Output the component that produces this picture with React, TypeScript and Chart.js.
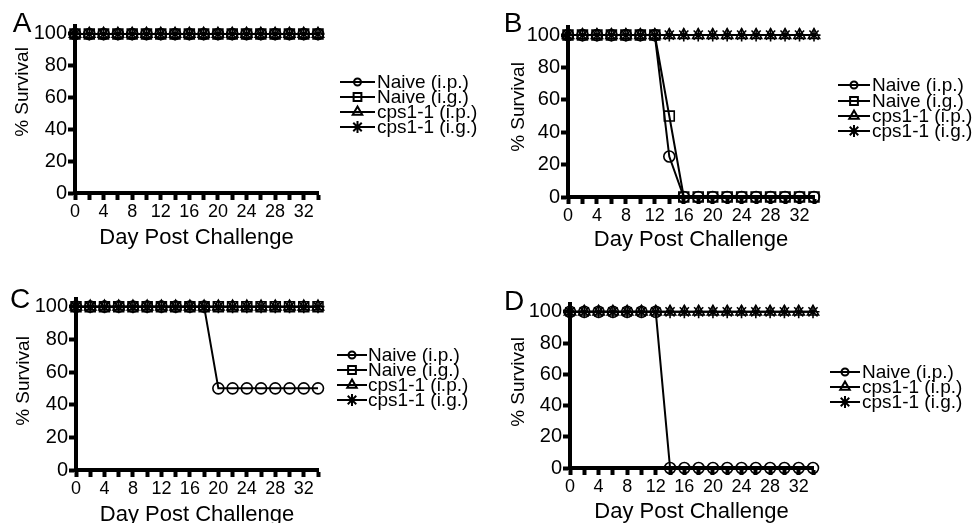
import React, { useEffect, useRef } from 'react';
import { Chart, registerables } from 'chart.js';

Chart.register(...registerables);

// ---------- data ----------
const days = [0, 2, 4, 6, 8, 10, 12, 14, 16, 18, 20, 22, 24, 26, 28, 30, 32, 34];

const seriesNames = ['Naive (i.p.)', 'Naive (i.g.)', 'cps1-1 (i.p.)', 'cps1-1 (i.g.)'];

// Panel A
const aNaiveIP = [100, 100, 100, 100, 100, 100, 100, 100, 100, 100, 100, 100, 100, 100, 100, 100, 100, 100];
const aNaiveIG = [100, 100, 100, 100, 100, 100, 100, 100, 100, 100, 100, 100, 100, 100, 100, 100, 100, 100];
const aCpsIP = [100, 100, 100, 100, 100, 100, 100, 100, 100, 100, 100, 100, 100, 100, 100, 100, 100, 100];
const aCpsIG = [100, 100, 100, 100, 100, 100, 100, 100, 100, 100, 100, 100, 100, 100, 100, 100, 100, 100];

// Panel B
const bNaiveIP = [100, 100, 100, 100, 100, 100, 100, 25, 0, 0, 0, 0, 0, 0, 0, 0, 0, 0];
const bNaiveIG = [100, 100, 100, 100, 100, 100, 100, 50, 0, 0, 0, 0, 0, 0, 0, 0, 0, 0];
const bCpsIP = [100, 100, 100, 100, 100, 100, 100, 100, 100, 100, 100, 100, 100, 100, 100, 100, 100, 100];
const bCpsIG = [100, 100, 100, 100, 100, 100, 100, 100, 100, 100, 100, 100, 100, 100, 100, 100, 100, 100];

// Panel C
const cNaiveIP = [100, 100, 100, 100, 100, 100, 100, 100, 100, 100, 50, 50, 50, 50, 50, 50, 50, 50];
const cNaiveIG = [100, 100, 100, 100, 100, 100, 100, 100, 100, 100, 100, 100, 100, 100, 100, 100, 100, 100];
const cCpsIP = [100, 100, 100, 100, 100, 100, 100, 100, 100, 100, 100, 100, 100, 100, 100, 100, 100, 100];
const cCpsIG = [100, 100, 100, 100, 100, 100, 100, 100, 100, 100, 100, 100, 100, 100, 100, 100, 100, 100];

// Panel D
const dNaiveIP = [100, 100, 100, 100, 100, 100, 100, 0, 0, 0, 0, 0, 0, 0, 0, 0, 0, 0];
const dCpsIP = [100, 100, 100, 100, 100, 100, 100, 100, 100, 100, 100, 100, 100, 100, 100, 100, 100, 100];
const dCpsIG = [100, 100, 100, 100, 100, 100, 100, 100, 100, 100, 100, 100, 100, 100, 100, 100, 100, 100];

const yTicks = [0, 20, 40, 60, 80, 100];
const xTitle = 'Day Post Challenge';
const yTitle = '% Survival';

// ---------- styling ----------
const FONT = "'Liberation Sans', Arial, Helvetica, sans-serif";
const markerStyle: Record<string, { style: string; r: number; lr: number }> = {
  'Naive (i.p.)': { style: 'circle', r: 5.5, lr: 3.5 },
  'Naive (i.g.)': { style: 'rect', r: 7, lr: 5.5 },
  'cps1-1 (i.p.)': { style: 'triangle', r: 6.5, lr: 5.5 },
  'cps1-1 (i.g.)': { style: 'star', r: 6.5, lr: 6 },
};

type Series = { name: string; values: number[]; order: number };
type PanelCfg = {
  letter: string;
  left: number; top: number; w: number; h: number;
  area: { l: number; r: number; t: number; b: number };
  xTitleY: number;
  yTitlePos: { x: number; y: number };
  letterPos: { x: number; y: number };
  legend: { x1: number; x2: number; tx: number; rows: number[] };
  series: Series[];
};

const panels: PanelCfg[] = [
  {
    letter: 'A', left: 0, top: 0, w: 486, h: 270,
    area: { l: 75, r: 318, t: 26, b: 193 },
    xTitleY: 238, yTitlePos: { x: 22, y: 92 }, letterPos: { x: 22, y: 24 },
    legend: { x1: 340, x2: 375, tx: 377, rows: [82, 97, 112, 127] },
    series: [
      { name: seriesNames[0], values: aNaiveIP, order: 1 },
      { name: seriesNames[1], values: aNaiveIG, order: 0 },
      { name: seriesNames[2], values: aCpsIP, order: 2 },
      { name: seriesNames[3], values: aCpsIG, order: 3 },
    ],
  },
  {
    letter: 'B', left: 486, top: 0, w: 486, h: 270,
    area: { l: 82, r: 328, t: 27, b: 197 },
    xTitleY: 240, yTitlePos: { x: 32, y: 107 }, letterPos: { x: 27, y: 24 },
    legend: { x1: 352, x2: 384, tx: 386, rows: [85, 101, 116, 131] },
    series: [
      { name: seriesNames[0], values: bNaiveIP, order: 1 },
      { name: seriesNames[1], values: bNaiveIG, order: 0 },
      { name: seriesNames[2], values: bCpsIP, order: 2 },
      { name: seriesNames[3], values: bCpsIG, order: 3 },
    ],
  },
  {
    letter: 'C', left: 0, top: 262, w: 486, h: 270,
    area: { l: 76, r: 318, t: 36.5, b: 208 },
    xTitleY: 253, yTitlePos: { x: 23, y: 119 }, letterPos: { x: 20, y: 38 },
    legend: { x1: 337, x2: 367, tx: 368, rows: [93, 108, 123, 138] },
    series: [
      { name: seriesNames[0], values: cNaiveIP, order: 0 },
      { name: seriesNames[1], values: cNaiveIG, order: 1 },
      { name: seriesNames[2], values: cCpsIP, order: 2 },
      { name: seriesNames[3], values: cCpsIG, order: 3 },
    ],
  },
  {
    letter: 'D', left: 486, top: 262, w: 486, h: 270,
    area: { l: 84, r: 327, t: 42, b: 206 },
    xTitleY: 250, yTitlePos: { x: 32, y: 120 }, letterPos: { x: 28, y: 40 },
    legend: { x1: 344, x2: 374, tx: 376, rows: [110, 125, 140] },
    series: [
      { name: seriesNames[0], values: dNaiveIP, order: 0 },
      { name: seriesNames[2], values: dCpsIP, order: 1 },
      { name: seriesNames[3], values: dCpsIG, order: 2 },
    ],
  },
];

function drawMarker(ctx: CanvasRenderingContext2D, style: string, x: number, y: number, r: number) {
  ctx.beginPath();
  if (style === 'circle') {
    ctx.arc(x, y, r, 0, Math.PI * 2);
    ctx.stroke();
  } else if (style === 'rect') {
    const s = r * Math.SQRT1_2;
    ctx.rect(x - s, y - s, 2 * s, 2 * s);
    ctx.stroke();
  } else if (style === 'triangle') {
    for (let k = 0; k < 3; k++) {
      const a = (k * 2 * Math.PI) / 3;
      const px = x + Math.sin(a) * r;
      const py = y - Math.cos(a) * r;
      if (k === 0) ctx.moveTo(px, py);
      else ctx.lineTo(px, py);
    }
    ctx.closePath();
    ctx.stroke();
  } else {
    const d = r * Math.SQRT1_2;
    ctx.moveTo(x - r, y); ctx.lineTo(x + r, y);
    ctx.moveTo(x, y - r); ctx.lineTo(x, y + r);
    ctx.moveTo(x - d, y - d); ctx.lineTo(x + d, y + d);
    ctx.moveTo(x - d, y + d); ctx.lineTo(x + d, y - d);
    ctx.stroke();
  }
}

function makeDeco(cfg: PanelCfg) {
  return {
    id: 'deco' + cfg.letter,
    afterDraw(chart: any) {
      const ctx: CanvasRenderingContext2D = chart.ctx;
      ctx.save();
      ctx.fillStyle = '#000';
      // panel letter
      ctx.font = `28px ${FONT}`;
      ctx.textAlign = 'center';
      ctx.textBaseline = 'middle';
      ctx.fillText(cfg.letter, cfg.letterPos.x, cfg.letterPos.y);
      // y title
      ctx.save();
      ctx.translate(cfg.yTitlePos.x, cfg.yTitlePos.y);
      ctx.rotate(-Math.PI / 2);
      ctx.font = `19px ${FONT}`;
      ctx.fillText(yTitle, 0, 1);
      ctx.restore();
      // legend
      const lg = cfg.legend;
      cfg.series.forEach((s, i) => {
        const y = lg.rows[i];
        const m = markerStyle[s.name];
        ctx.strokeStyle = '#000';
        ctx.lineWidth = 2;
        ctx.beginPath();
        ctx.moveTo(lg.x1, y);
        ctx.lineTo(lg.x2, y);
        ctx.stroke();
        ctx.lineWidth = 2;
        drawMarker(ctx, m.style, (lg.x1 + lg.x2) / 2, y, m.lr);
        ctx.fillStyle = '#000';
        ctx.font = `19px ${FONT}`;
        ctx.textAlign = 'left';
        ctx.textBaseline = 'middle';
        ctx.fillText(s.name, lg.tx, y + 1);
      });
      ctx.restore();
    },
  };
}

function buildConfig(cfg: PanelCfg): any {
  const a = cfg.area;
  const xHeight = cfg.xTitleY + 13.2 - a.b;
  return {
    type: 'line',
    data: {
      datasets: cfg.series.map((s) => {
        const m = markerStyle[s.name];
        return {
          label: s.name,
          data: days.map((d, i) => ({ x: d, y: s.values[i] })),
          order: s.order,
          borderColor: '#000',
          borderWidth: 2,
          tension: 0,
          pointStyle: m.style,
          pointRadius: m.r,
          pointBorderWidth: 1.6,
          pointBackgroundColor: 'rgba(0,0,0,0)',
          pointBorderColor: '#000',
          clip: false,
        };
      }),
    },
    options: {
      animation: false,
      responsive: false,
      maintainAspectRatio: false,
      events: [],
      layout: {
        padding: { left: 0, right: cfg.w - a.r, top: a.t, bottom: cfg.h - a.b - xHeight },
      },
      plugins: { legend: { display: false }, tooltip: { enabled: false }, title: { display: false } },
      scales: {
        x: {
          type: 'linear',
          min: 0,
          max: 34,
          afterFit: (scale: any) => { scale.height = xHeight; },
          border: { display: true, color: '#000', width: 4 },
          grid: { display: true, drawOnChartArea: false, drawTicks: true, tickLength: 7, tickWidth: 4, tickColor: '#000', color: '#000' },
          ticks: {
            stepSize: 2,
            autoSkip: false,
            maxRotation: 0,
            padding: 1,
            color: '#000',
            font: { family: FONT, size: 18 },
            callback: (v: number) => (v % 4 === 0 ? String(v) : ''),
          },
          title: {
            display: true,
            text: xTitle,
            color: '#000',
            font: { family: FONT, size: 22 },
            padding: { top: 0, bottom: 0 },
          },
        },
        y: {
          type: 'linear',
          min: 0,
          max: 105,
          afterFit: (scale: any) => { scale.width = a.l; },
          afterBuildTicks: (scale: any) => { scale.ticks = yTicks.map((v) => ({ value: v })); },
          border: { display: true, color: '#000', width: 4 },
          grid: { display: true, drawOnChartArea: false, drawTicks: true, tickLength: 7, tickWidth: 4, tickColor: '#000', color: '#000' },
          ticks: {
            stepSize: 20,
            includeBounds: false,
            padding: 1,
            color: '#000',
            font: { family: FONT, size: 20 },
          },
        },
      },
    },
    plugins: [makeDeco(cfg)],
  };
}

function Panel({ cfg }: { cfg: PanelCfg }) {
  const ref = useRef<HTMLCanvasElement>(null);
  useEffect(() => {
    if (!ref.current) return;
    const chart = new Chart(ref.current, buildConfig(cfg));
    return () => chart.destroy();
  }, [cfg]);
  return (
    <canvas
      ref={ref}
      width={cfg.w}
      height={cfg.h}
      style={{ position: 'absolute', left: cfg.left, top: cfg.top, width: cfg.w, height: cfg.h }}
    />
  );
}

export default function App() {
  return (
    <div
      style={{
        position: 'absolute', left: 0, top: 0, width: 972, height: 523,
        overflow: 'hidden', background: '#fff', fontFamily: FONT,
      }}
    >
      {panels.map((p) => (
        <Panel key={p.letter} cfg={p} />
      ))}
    </div>
  );
}
